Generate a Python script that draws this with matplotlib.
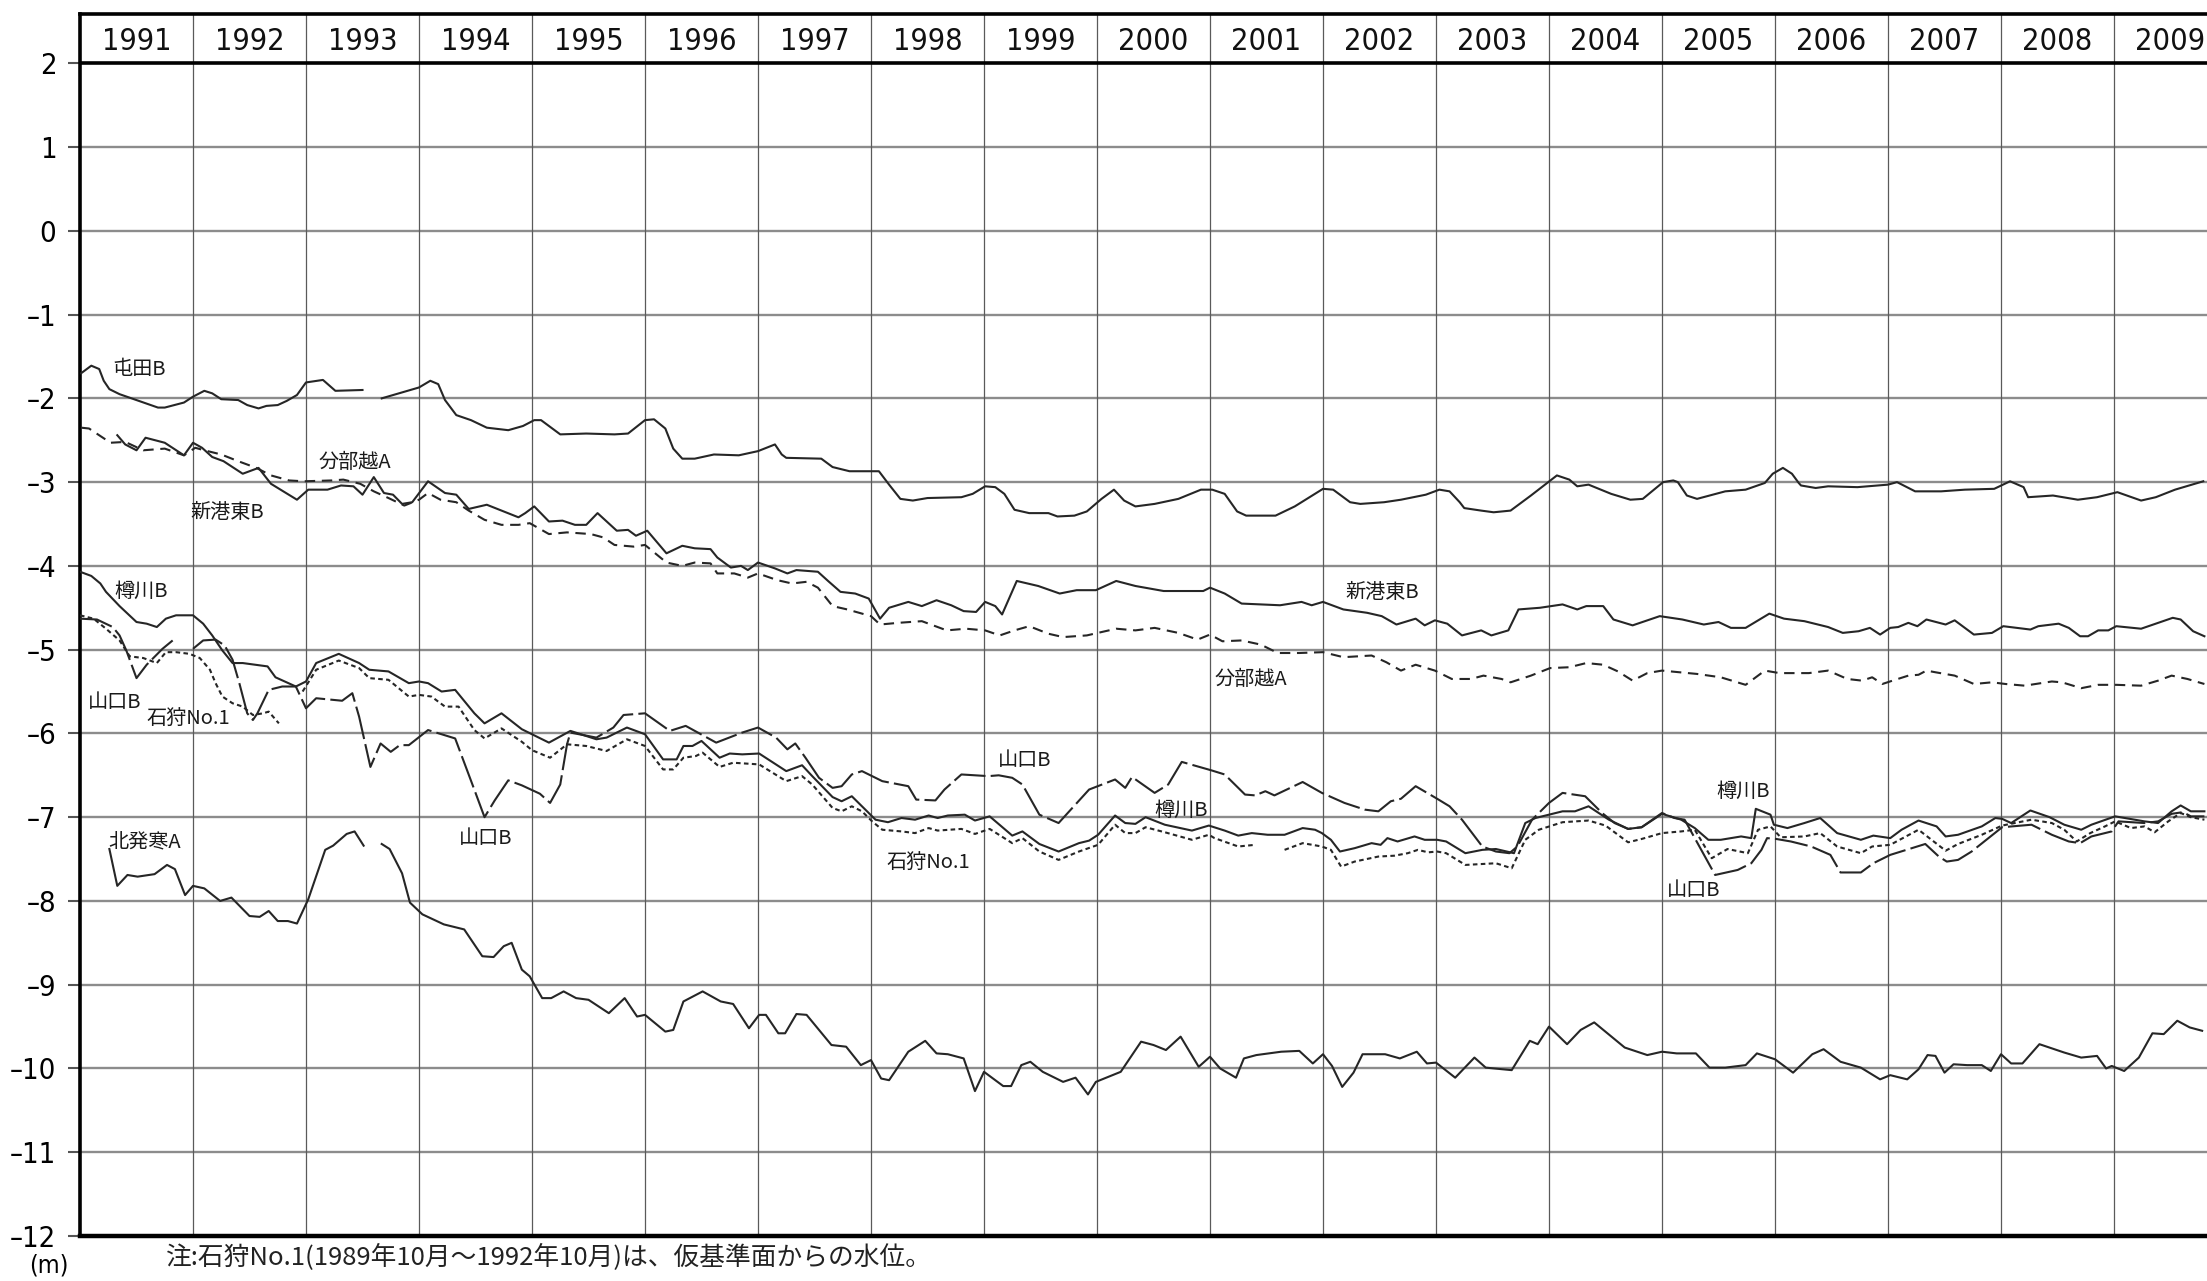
import numpy as np
import matplotlib.pyplot as plt

plt.rcParams['font.family'] = ['Noto Sans CJK JP', 'DejaVu Sans']
NARROW = ['DejaVu Sans Condensed', 'Liberation Sans Narrow', 'DejaVu Sans']

# 観測年 (ヘッダー) と水位目盛
years = list(range(1991, 2010))
levels = list(range(-12, 3))

# 各観測井の水位 (年, m)
tonden_b = [
    (1991.01, -1.70), (1991.10, -1.61), (1991.17, -1.65), (1991.21, -1.79), (1991.26, -1.89),
    (1991.35, -1.95), (1991.50, -2.02), (1991.69, -2.11), (1991.75, -2.11), (1991.92, -2.05),
    (1992.00, -1.98), (1992.10, -1.91), (1992.17, -1.94), (1992.25, -2.01), (1992.40, -2.02),
    (1992.48, -2.08), (1992.58, -2.12), (1992.65, -2.09), (1992.75, -2.08), (1992.83, -2.03),
    (1992.92, -1.96), (1993.00, -1.81), (1993.15, -1.78), (1993.26, -1.91), (1993.50, -1.90),
    (1993.58, np.nan),
    (1993.67, -2.00), (1994.00, -1.87), (1994.10, -1.79), (1994.17, -1.83), (1994.23, -2.02),
    (1994.33, -2.20), (1994.46, -2.26), (1994.60, -2.35), (1994.79, -2.38), (1994.92, -2.33),
    (1995.02, -2.26), (1995.08, -2.26), (1995.25, -2.43), (1995.48, -2.42), (1995.73, -2.43),
    (1995.85, -2.42), (1996.00, -2.26), (1996.08, -2.25), (1996.18, -2.36), (1996.25, -2.60),
    (1996.33, -2.72), (1996.44, -2.72), (1996.61, -2.67), (1996.83, -2.68), (1997.00, -2.63),
    (1997.15, -2.55), (1997.21, -2.67), (1997.25, -2.71), (1997.56, -2.72), (1997.66, -2.82),
    (1997.81, -2.87), (1998.07, -2.87), (1998.16, -3.03), (1998.26, -3.20), (1998.37, -3.22),
    (1998.50, -3.19), (1998.80, -3.18), (1998.90, -3.14), (1999.01, -3.05), (1999.10, -3.06),
    (1999.18, -3.14), (1999.27, -3.33), (1999.40, -3.37), (1999.57, -3.37), (1999.65, -3.41),
    (1999.80, -3.40), (1999.91, -3.35), (2000.04, -3.20), (2000.15, -3.09), (2000.24, -3.22),
    (2000.34, -3.29), (2000.51, -3.26), (2000.72, -3.20), (2000.92, -3.09), (2001.02, -3.09),
    (2001.13, -3.14), (2001.24, -3.35), (2001.32, -3.40), (2001.58, -3.40), (2001.75, -3.29),
    (2002.00, -3.08), (2002.09, -3.09), (2002.24, -3.24), (2002.33, -3.26), (2002.54, -3.24),
    (2002.69, -3.21), (2002.91, -3.15), (2003.03, -3.09), (2003.12, -3.11), (2003.21, -3.24),
    (2003.25, -3.31), (2003.40, -3.34), (2003.51, -3.36), (2003.66, -3.34), (2003.84, -3.16),
    (2004.07, -2.92), (2004.18, -2.97), (2004.25, -3.05), (2004.35, -3.03), (2004.55, -3.14),
    (2004.72, -3.21), (2004.83, -3.20), (2005.01, -3.00), (2005.10, -2.98), (2005.14, -3.00),
    (2005.22, -3.16), (2005.31, -3.20), (2005.56, -3.11), (2005.74, -3.09), (2005.91, -3.01),
    (2005.98, -2.90), (2006.07, -2.83), (2006.15, -2.90), (2006.21, -3.01), (2006.23, -3.04),
    (2006.36, -3.07), (2006.47, -3.05), (2006.73, -3.06), (2007.00, -3.03), (2007.08, -3.00),
    (2007.24, -3.11), (2007.47, -3.11), (2007.68, -3.09), (2007.94, -3.08), (2008.08, -2.99),
    (2008.20, -3.06), (2008.24, -3.18), (2008.46, -3.16), (2008.68, -3.21), (2008.85, -3.18),
    (2009.03, -3.12), (2009.24, -3.22), (2009.37, -3.18), (2009.54, -3.09), (2009.79, -2.99),
]

shinko_higashi_b = [
    (1991.33, -2.44), (1991.40, -2.55), (1991.50, -2.62), (1991.58, -2.47), (1991.75, -2.53),
    (1991.92, -2.68), (1992.00, -2.53), (1992.08, -2.59), (1992.17, -2.70), (1992.27, -2.75),
    (1992.44, -2.90), (1992.58, -2.83), (1992.69, -3.02), (1992.92, -3.21), (1993.02, -3.09),
    (1993.19, -3.09), (1993.31, -3.04), (1993.42, -3.05), (1993.50, -3.15), (1993.60, -2.94),
    (1993.69, -3.13), (1993.77, -3.15), (1993.85, -3.26), (1993.94, -3.24), (1994.08, -2.99),
    (1994.23, -3.13), (1994.33, -3.15), (1994.44, -3.32), (1994.60, -3.27), (1994.73, -3.34),
    (1994.88, -3.42), (1994.94, -3.37), (1995.02, -3.29), (1995.15, -3.47), (1995.27, -3.46),
    (1995.38, -3.51), (1995.48, -3.51), (1995.58, -3.37), (1995.75, -3.58), (1995.85, -3.57),
    (1995.92, -3.64), (1996.02, -3.58), (1996.19, -3.85), (1996.33, -3.76), (1996.44, -3.79),
    (1996.58, -3.80), (1996.64, -3.90), (1996.76, -4.02), (1996.85, -4.00), (1996.91, -4.05),
    (1997.00, -3.96), (1997.15, -4.03), (1997.26, -4.09), (1997.34, -4.05), (1997.53, -4.07),
    (1997.62, -4.18), (1997.73, -4.31), (1997.86, -4.33), (1997.98, -4.39), (1998.08, -4.63),
    (1998.16, -4.50), (1998.33, -4.43), (1998.45, -4.48), (1998.58, -4.41), (1998.71, -4.47),
    (1998.82, -4.54), (1998.93, -4.55), (1999.01, -4.43), (1999.10, -4.48), (1999.16, -4.58),
    (1999.29, -4.18), (1999.48, -4.24), (1999.67, -4.33), (1999.82, -4.29), (1999.99, -4.29),
    (2000.17, -4.18), (2000.34, -4.24), (2000.59, -4.30), (2000.94, -4.30), (2001.00, -4.26),
    (2001.13, -4.33), (2001.28, -4.45), (2001.62, -4.47), (2001.81, -4.43), (2001.90, -4.47),
    (2002.00, -4.43), (2002.18, -4.52), (2002.39, -4.56), (2002.52, -4.60), (2002.65, -4.70),
    (2002.82, -4.63), (2002.90, -4.71), (2002.99, -4.65), (2003.10, -4.69), (2003.23, -4.83),
    (2003.40, -4.77), (2003.49, -4.83), (2003.64, -4.77), (2003.73, -4.52), (2003.92, -4.50),
    (2004.12, -4.46), (2004.25, -4.52), (2004.33, -4.48), (2004.48, -4.48), (2004.57, -4.64),
    (2004.74, -4.71), (2004.98, -4.60), (2005.18, -4.64), (2005.37, -4.70), (2005.50, -4.67),
    (2005.61, -4.74), (2005.74, -4.74), (2005.95, -4.57), (2006.08, -4.63), (2006.26, -4.66),
    (2006.47, -4.73), (2006.60, -4.80), (2006.74, -4.78), (2006.84, -4.74), (2006.93, -4.82),
    (2007.02, -4.74), (2007.09, -4.73), (2007.18, -4.68), (2007.26, -4.72), (2007.34, -4.64),
    (2007.51, -4.70), (2007.59, -4.65), (2007.76, -4.82), (2007.92, -4.80), (2008.02, -4.72),
    (2008.26, -4.76), (2008.33, -4.72), (2008.51, -4.69), (2008.60, -4.74), (2008.70, -4.84),
    (2008.77, -4.84), (2008.86, -4.77), (2008.95, -4.77), (2009.02, -4.72), (2009.24, -4.75),
    (2009.39, -4.68), (2009.52, -4.62), (2009.59, -4.64), (2009.70, -4.78), (2009.80, -4.84),
]

bunbukoshi_a = [
    (1991.01, -2.35), (1991.08, -2.36), (1991.27, -2.53), (1991.40, -2.52), (1991.56, -2.62),
    (1991.75, -2.60), (1991.92, -2.68), (1992.02, -2.59), (1992.10, -2.62), (1992.25, -2.67),
    (1992.40, -2.75), (1992.56, -2.83), (1992.69, -2.92), (1992.85, -2.98), (1992.98, -2.99),
    (1993.23, -2.98), (1993.33, -2.97), (1993.48, -3.02), (1993.60, -3.11), (1993.73, -3.19),
    (1993.87, -3.28), (1994.00, -3.21), (1994.08, -3.13), (1994.19, -3.21), (1994.33, -3.24),
    (1994.44, -3.34), (1994.58, -3.45), (1994.73, -3.51), (1994.88, -3.51), (1994.98, -3.49),
    (1995.15, -3.62), (1995.31, -3.60), (1995.52, -3.62), (1995.63, -3.66), (1995.73, -3.75),
    (1995.90, -3.77), (1996.00, -3.75), (1996.19, -3.96), (1996.33, -4.00), (1996.44, -3.96),
    (1996.58, -3.97), (1996.64, -4.09), (1996.79, -4.09), (1996.91, -4.14), (1997.00, -4.09),
    (1997.17, -4.17), (1997.30, -4.21), (1997.43, -4.19), (1997.53, -4.26), (1997.66, -4.48),
    (1997.79, -4.52), (1998.00, -4.60), (1998.08, -4.70), (1998.24, -4.68), (1998.45, -4.66),
    (1998.67, -4.77), (1998.84, -4.75), (1999.01, -4.77), (1999.14, -4.83), (1999.27, -4.77),
    (1999.40, -4.72), (1999.57, -4.81), (1999.70, -4.85), (1999.91, -4.83), (2000.17, -4.75),
    (2000.34, -4.77), (2000.51, -4.74), (2000.72, -4.80), (2000.89, -4.88), (2001.00, -4.82),
    (2001.11, -4.90), (2001.28, -4.89), (2001.45, -4.94), (2001.60, -5.04), (2001.79, -5.04),
    (2002.00, -5.03), (2002.18, -5.09), (2002.43, -5.07), (2002.56, -5.15), (2002.69, -5.25),
    (2002.82, -5.18), (2002.99, -5.25), (2003.14, -5.35), (2003.31, -5.35), (2003.42, -5.31),
    (2003.58, -5.35), (2003.66, -5.39), (2003.84, -5.31), (2004.01, -5.22), (2004.18, -5.21),
    (2004.33, -5.16), (2004.48, -5.18), (2004.61, -5.26), (2004.74, -5.37), (2004.87, -5.28),
    (2005.00, -5.25), (2005.31, -5.29), (2005.52, -5.33), (2005.74, -5.42), (2005.91, -5.25),
    (2006.04, -5.28), (2006.30, -5.28), (2006.47, -5.25), (2006.64, -5.35), (2006.77, -5.37),
    (2006.86, -5.33), (2006.95, -5.41), (2007.04, -5.37), (2007.18, -5.31), (2007.27, -5.30),
    (2007.34, -5.25), (2007.42, -5.27), (2007.59, -5.31), (2007.76, -5.41), (2007.92, -5.39),
    (2008.04, -5.41), (2008.21, -5.43), (2008.45, -5.38), (2008.54, -5.39), (2008.71, -5.46),
    (2008.86, -5.42), (2009.02, -5.42), (2009.24, -5.43), (2009.39, -5.37), (2009.51, -5.31),
    (2009.65, -5.35), (2009.80, -5.41),
]

tarukawa_b = [
    (1991.00, -4.07), (1991.10, -4.12), (1991.18, -4.21), (1991.23, -4.31), (1991.35, -4.48),
    (1991.50, -4.67), (1991.59, -4.69), (1991.68, -4.73), (1991.76, -4.63), (1991.85, -4.59),
    (1992.00, -4.59), (1992.09, -4.69), (1992.17, -4.83), (1992.26, -5.01), (1992.35, -5.16),
    (1992.44, -5.16), (1992.66, -5.20), (1992.73, -5.33), (1992.91, -5.44), (1993.00, -5.38),
    (1993.09, -5.16), (1993.29, -5.05), (1993.47, -5.16), (1993.56, -5.24), (1993.73, -5.26),
    (1993.91, -5.40), (1994.00, -5.38), (1994.08, -5.40), (1994.20, -5.50), (1994.32, -5.48),
    (1994.49, -5.76), (1994.58, -5.88), (1994.73, -5.76), (1994.91, -5.95), (1995.00, -6.01),
    (1995.15, -6.11), (1995.34, -5.97), (1995.57, -6.07), (1995.66, -6.05), (1995.84, -5.93),
    (1996.00, -6.01), (1996.16, -6.31), (1996.28, -6.31), (1996.34, -6.15), (1996.42, -6.15),
    (1996.50, -6.09), (1996.66, -6.29), (1996.75, -6.24), (1996.86, -6.25), (1997.01, -6.24),
    (1997.25, -6.45), (1997.39, -6.38), (1997.48, -6.51), (1997.66, -6.76), (1997.74, -6.81),
    (1997.83, -6.75), (1997.92, -6.87), (1998.04, -7.03), (1998.15, -7.06), (1998.27, -7.01),
    (1998.39, -7.03), (1998.51, -6.98), (1998.59, -7.01), (1998.68, -6.98), (1998.83, -6.97),
    (1998.92, -7.04), (1999.05, -6.99), (1999.25, -7.22), (1999.34, -7.17), (1999.49, -7.32),
    (1999.66, -7.41), (1999.84, -7.31), (1999.93, -7.28), (2000.01, -7.21), (2000.16, -6.98),
    (2000.25, -7.07), (2000.34, -7.08), (2000.43, -7.00), (2000.60, -7.09), (2000.84, -7.16),
    (2000.99, -7.10), (2001.13, -7.16), (2001.25, -7.22), (2001.37, -7.19), (2001.51, -7.21),
    (2001.66, -7.21), (2001.82, -7.13), (2001.93, -7.15), (2001.99, -7.19), (2002.07, -7.27),
    (2002.15, -7.41), (2002.28, -7.37), (2002.43, -7.31), (2002.51, -7.33), (2002.57, -7.25),
    (2002.66, -7.29), (2002.81, -7.23), (2002.90, -7.27), (2003.01, -7.27), (2003.09, -7.29),
    (2003.26, -7.43), (2003.41, -7.39), (2003.53, -7.38), (2003.69, -7.43), (2003.79, -7.07),
    (2003.88, -7.01), (2004.12, -6.93), (2004.23, -6.93), (2004.35, -6.87), (2004.53, -7.03),
    (2004.70, -7.14), (2004.82, -7.12), (2005.00, -6.96), (2005.17, -7.03), (2005.29, -7.13),
    (2005.41, -7.27), (2005.52, -7.27), (2005.70, -7.23), (2005.79, -7.25), (2005.83, -6.90),
    (2005.96, -6.97), (2005.99, -7.09), (2006.11, -7.13), (2006.26, -7.07), (2006.40, -7.01),
    (2006.55, -7.19), (2006.76, -7.27), (2006.87, -7.22), (2007.02, -7.25), (2007.12, -7.15),
    (2007.27, -7.04), (2007.43, -7.11), (2007.51, -7.23), (2007.62, -7.21), (2007.83, -7.11),
    (2007.95, -7.01), (2008.01, -7.02), (2008.09, -7.07), (2008.26, -6.92), (2008.43, -7.00),
    (2008.56, -7.09), (2008.71, -7.15), (2008.80, -7.09), (2009.01, -6.99), (2009.27, -7.05),
    (2009.39, -7.07), (2009.51, -6.93), (2009.59, -6.86), (2009.68, -6.93), (2009.80, -6.93),
]

yamaguchi_b = [
    (1991.00, -4.63), (1991.15, -4.64), (1991.29, -4.73), (1991.35, -4.83), (1991.41, -5.01),
    (1991.50, -5.34), (1991.59, -5.18), (1991.73, -4.99), (1991.82, -4.89), (1991.91, np.nan),
    (1992.00, -4.99), (1992.09, -4.89), (1992.20, -4.88), (1992.28, -4.95), (1992.35, -5.12),
    (1992.41, -5.40), (1992.48, -5.76), (1992.53, -5.84), (1992.57, -5.76), (1992.67, -5.48),
    (1992.79, -5.44), (1992.91, -5.44), (1993.00, -5.70), (1993.09, -5.58), (1993.32, -5.61),
    (1993.41, -5.52), (1993.47, -5.80), (1993.57, -6.40), (1993.66, -6.12), (1993.75, -6.22),
    (1993.83, -6.14), (1993.91, -6.14), (1994.08, -5.96), (1994.32, -6.06), (1994.47, -6.60),
    (1994.58, -7.00), (1994.67, -6.80), (1994.79, -6.56), (1994.91, -6.62), (1995.07, -6.72),
    (1995.16, -6.83), (1995.25, -6.61), (1995.31, -6.13), (1995.34, -5.99), (1995.57, -6.05),
    (1995.72, -5.93), (1995.81, -5.78), (1996.00, -5.76), (1996.22, -5.97), (1996.36, -5.91),
    (1996.63, -6.11), (1996.86, -5.99), (1997.00, -5.93), (1997.16, -6.05), (1997.26, -6.19),
    (1997.33, -6.12), (1997.42, -6.29), (1997.54, -6.53), (1997.66, -6.65), (1997.74, -6.63),
    (1997.83, -6.49), (1997.92, -6.45), (1998.10, -6.57), (1998.33, -6.63), (1998.40, -6.79),
    (1998.57, -6.80), (1998.65, -6.67), (1998.80, -6.49), (1999.04, -6.51), (1999.13, -6.50),
    (1999.25, -6.53), (1999.34, -6.61), (1999.49, -6.97), (1999.66, -7.07), (1999.93, -6.67),
    (2000.16, -6.55), (2000.25, -6.65), (2000.31, -6.52), (2000.51, -6.71), (2000.63, -6.61),
    (2000.75, -6.34), (2001.01, -6.44), (2001.13, -6.49), (2001.31, -6.73), (2001.40, -6.74),
    (2001.49, -6.69), (2001.57, -6.74), (2001.82, -6.58), (2001.99, -6.71), (2002.19, -6.83),
    (2002.37, -6.91), (2002.49, -6.93), (2002.60, -6.81), (2002.69, -6.78), (2002.82, -6.63),
    (2003.01, -6.78), (2003.12, -6.87), (2003.23, -7.03), (2003.32, -7.19), (2003.41, -7.35),
    (2003.53, -7.41), (2003.65, -7.43), (2003.72, -7.35), (2003.85, -7.03), (2004.00, -6.83),
    (2004.12, -6.71), (2004.32, -6.75), (2004.47, -6.95), (2004.58, -7.07), (2004.70, -7.14),
    (2004.82, -7.12), (2005.00, -6.95), (2005.11, -7.01), (2005.20, -7.03), (2005.47, -7.69),
    (2005.67, -7.63), (2005.79, -7.55), (2005.88, -7.39), (2005.93, -7.25), (2006.01, -7.26),
    (2006.14, -7.29), (2006.32, -7.35), (2006.49, -7.45), (2006.58, -7.66), (2006.76, -7.66),
    (2006.87, -7.55), (2007.02, -7.45), (2007.33, -7.32), (2007.45, -7.47), (2007.52, -7.53),
    (2007.62, -7.51), (2007.74, -7.41), (2008.01, -7.12), (2008.27, -7.09), (2008.45, -7.21),
    (2008.60, -7.29), (2008.70, -7.31), (2008.80, -7.23), (2008.98, -7.17), (2009.04, -7.05),
    (2009.27, -7.07), (2009.39, -7.05), (2009.51, -6.96), (2009.61, -6.94), (2009.68, -6.99),
    (2009.80, -6.99),
]

# 石狩No.1 (1989年10月～1992年10月 は仮基準面)
ishikari_old = [
    (1991.00, -4.59), (1991.12, -4.63), (1991.23, -4.75), (1991.35, -4.89), (1991.44, -5.08),
    (1991.56, -5.10), (1991.68, -5.16), (1991.76, -5.03), (1991.85, -5.03), (1991.97, -5.05),
    (1992.06, -5.10), (1992.15, -5.24), (1992.20, -5.40), (1992.26, -5.56), (1992.35, -5.64),
    (1992.44, -5.68), (1992.53, -5.78), (1992.62, -5.76), (1992.67, -5.74), (1992.76, -5.88),
]

ishikari_no1 = [
    (1992.97, -5.50), (1993.09, -5.24), (1993.29, -5.13), (1993.47, -5.22), (1993.56, -5.34),
    (1993.73, -5.36), (1993.91, -5.56), (1994.00, -5.54), (1994.11, -5.56), (1994.23, -5.68),
    (1994.35, -5.68), (1994.49, -5.96), (1994.58, -6.06), (1994.73, -5.94), (1994.91, -6.10),
    (1995.00, -6.20), (1995.16, -6.29), (1995.31, -6.13), (1995.48, -6.15), (1995.66, -6.21),
    (1995.84, -6.07), (1996.00, -6.15), (1996.16, -6.43), (1996.25, -6.43), (1996.34, -6.29),
    (1996.45, -6.27), (1996.51, -6.23), (1996.66, -6.40), (1996.78, -6.35), (1997.01, -6.37),
    (1997.25, -6.57), (1997.39, -6.51), (1997.48, -6.61), (1997.66, -6.89), (1997.74, -6.93),
    (1997.83, -6.87), (1997.92, -6.93), (1998.01, -7.05), (1998.10, -7.15), (1998.27, -7.17),
    (1998.39, -7.19), (1998.51, -7.13), (1998.59, -7.16), (1998.80, -7.14), (1998.92, -7.20),
    (1999.05, -7.14), (1999.25, -7.31), (1999.34, -7.25), (1999.49, -7.41), (1999.66, -7.51),
    (1999.84, -7.41), (2000.01, -7.33), (2000.16, -7.09), (2000.25, -7.19), (2000.34, -7.19),
    (2000.43, -7.12), (2000.60, -7.18), (2000.84, -7.27), (2000.99, -7.21), (2001.04, -7.25),
    (2001.25, -7.35), (2001.40, -7.33), (2001.53, np.nan), (2001.66, -7.39), (2001.82, -7.31),
    (2001.99, -7.35), (2002.07, -7.39), (2002.16, -7.59), (2002.28, -7.53), (2002.49, -7.47),
    (2002.63, -7.46), (2002.75, -7.43), (2002.84, -7.39), (2002.93, -7.42), (2003.01, -7.41),
    (2003.09, -7.43), (2003.26, -7.57), (2003.53, -7.55), (2003.67, -7.61), (2003.79, -7.27),
    (2003.91, -7.15), (2004.12, -7.06), (2004.35, -7.04), (2004.50, -7.10), (2004.70, -7.30),
    (2004.82, -7.26), (2005.00, -7.19), (2005.17, -7.17), (2005.29, -7.15), (2005.44, -7.49),
    (2005.58, -7.38), (2005.76, -7.43), (2005.85, -7.15), (2005.96, -7.11), (2006.05, -7.24),
    (2006.26, -7.23), (2006.40, -7.19), (2006.55, -7.35), (2006.76, -7.43), (2006.86, -7.35),
    (2007.02, -7.33), (2007.27, -7.15), (2007.51, -7.40), (2007.62, -7.32), (2007.83, -7.21),
    (2008.01, -7.10), (2008.27, -7.03), (2008.45, -7.07), (2008.56, -7.15), (2008.67, -7.29),
    (2008.79, -7.19), (2008.92, -7.11), (2009.01, -7.05), (2009.15, -7.13), (2009.27, -7.11),
    (2009.36, -7.18), (2009.48, -7.05), (2009.59, -6.95), (2009.68, -7.00), (2009.80, -7.03),
]

kitahassamu_a = [
    (1991.26, -7.38), (1991.33, -7.82), (1991.42, -7.69), (1991.51, -7.71), (1991.66, -7.68),
    (1991.77, -7.57), (1991.84, -7.62), (1991.93, -7.93), (1992.00, -7.82), (1992.10, -7.85),
    (1992.24, -8.00), (1992.34, -7.96), (1992.50, -8.18), (1992.59, -8.19), (1992.67, -8.12),
    (1992.75, -8.24), (1992.84, -8.24), (1992.92, -8.27), (1993.02, -7.98), (1993.17, -7.39),
    (1993.24, -7.34), (1993.36, -7.20), (1993.43, -7.17), (1993.51, -7.34), (1993.59, np.nan),
    (1993.67, -7.32), (1993.74, -7.38), (1993.85, -7.67), (1993.92, -8.02), (1994.03, -8.16),
    (1994.22, -8.28), (1994.40, -8.34), (1994.56, -8.66), (1994.66, -8.67), (1994.75, -8.54),
    (1994.82, -8.50), (1994.91, -8.82), (1994.98, -8.90), (1995.09, -9.16), (1995.17, -9.16),
    (1995.28, -9.08), (1995.39, -9.16), (1995.50, -9.18), (1995.68, -9.34), (1995.82, -9.16),
    (1995.93, -9.38), (1996.00, -9.36), (1996.18, -9.56), (1996.25, -9.54), (1996.34, -9.20),
    (1996.51, -9.08), (1996.67, -9.20), (1996.78, -9.23), (1996.92, -9.52), (1997.01, -9.36),
    (1997.07, -9.36), (1997.18, -9.58), (1997.24, -9.58), (1997.34, -9.35), (1997.43, -9.36),
    (1997.65, -9.72), (1997.78, -9.74), (1997.91, -9.96), (1998.00, -9.90), (1998.09, -10.12),
    (1998.16, -10.14), (1998.33, -9.80), (1998.48, -9.67), (1998.58, -9.82), (1998.68, -9.83),
    (1998.82, -9.88), (1998.92, -10.27), (1999.00, -10.04), (1999.17, -10.21), (1999.24, -10.21),
    (1999.33, -9.96), (1999.41, -9.92), (1999.52, -10.04), (1999.70, -10.16), (1999.81, -10.11),
    (1999.92, -10.31), (1999.99, -10.16), (2000.21, -10.04), (2000.39, -9.68), (2000.50, -9.72),
    (2000.61, -9.78), (2000.74, -9.62), (2000.90, -9.98), (2001.00, -9.86), (2001.09, -10.00),
    (2001.23, -10.11), (2001.30, -9.88), (2001.41, -9.84), (2001.63, -9.80), (2001.79, -9.79),
    (2001.91, -9.94), (2002.00, -9.83), (2002.08, -9.97), (2002.17, -10.22), (2002.27, -10.05),
    (2002.35, -9.83), (2002.55, -9.83), (2002.68, -9.88), (2002.83, -9.80), (2002.92, -9.94),
    (2003.00, -9.93), (2003.17, -10.11), (2003.34, -9.87), (2003.44, -9.99), (2003.67, -10.02),
    (2003.83, -9.67), (2003.90, -9.71), (2004.00, -9.50), (2004.16, -9.71), (2004.28, -9.54),
    (2004.40, -9.45), (2004.67, -9.75), (2004.87, -9.84), (2005.00, -9.80), (2005.13, -9.82),
    (2005.30, -9.82), (2005.42, -9.99), (2005.56, -9.99), (2005.74, -9.96), (2005.84, -9.82),
    (2006.00, -9.89), (2006.16, -10.05), (2006.33, -9.83), (2006.43, -9.77), (2006.58, -9.92),
    (2006.76, -9.99), (2006.93, -10.13), (2007.02, -10.08), (2007.17, -10.13), (2007.27, -10.01),
    (2007.35, -9.84), (2007.42, -9.85), (2007.50, -10.05), (2007.58, -9.95), (2007.70, -9.96),
    (2007.83, -9.96), (2007.91, -10.03), (2008.00, -9.83), (2008.09, -9.94), (2008.19, -9.94),
    (2008.34, -9.71), (2008.56, -9.81), (2008.71, -9.87), (2008.85, -9.85), (2008.93, -10.00),
    (2008.98, -9.97), (2009.09, -10.03), (2009.22, -9.87), (2009.34, -9.58), (2009.44, -9.59),
    (2009.56, -9.43), (2009.67, -9.51), (2009.78, -9.55),
]

# 観測井名ラベル (年, m, 名称)
labels = [
    (1991.29, -1.65, '屯田B'),
    (1993.11, -2.76, '分部越A'),
    (1991.98, -3.36, '新港東B'),
    (1991.30, -4.30, '樽川B'),
    (1991.07, -5.63, '山口B'),
    (1991.59, -5.83, '石狩No.1'),
    (1991.25, -7.29, '北発寒A'),
    (1994.35, -7.26, '山口B'),
    (2002.20, -4.32, '新港東B'),
    (2001.04, -5.36, '分部越A'),
    (1999.12, -6.32, '山口B'),
    (2000.51, -6.92, '樽川B'),
    (1998.14, -7.55, '石狩No.1'),
    (2005.48, -6.69, '樽川B'),
    (2005.04, -7.87, '山口B'),
]

W, H = 2207, 1281
fig = plt.figure(figsize=(W / 100, H / 100), dpi=100)
ax = fig.add_axes([80 / W, 45 / H, 1 - 80 / W, (H - 45 - 14) / H])

x0, x1 = 1991, 1991 + (W - 80) / 113.0
y_top = 2 + (63.3 - 14) / 83.76
ax.set_xlim(x0, x1)
ax.set_ylim(-12, y_top)

# 格子線
for lv in levels[1:-1]:
    ax.axhline(lv, color='#8c8c8c', lw=1.7, zorder=1)
for yr in years[1:]:
    ax.axvline(yr, color='#5a5a5a', lw=0.9, zorder=1)
ax.axhline(2, color='black', lw=2.6, zorder=3)

# 年ヘッダー
for yr in years:
    ax.text(yr + 0.5, (2 + y_top) / 2 - 0.03, str(yr), ha='center', va='center',
            fontsize=22, family=NARROW, fontstretch='condensed', color='#111')

ink = '#262626'
styles = [
    (tonden_b, '-'),
    (shinko_higashi_b, '-'),
    (bunbukoshi_a, (0, (5, 3.2))),
    (tarukawa_b, '-'),
    (yamaguchi_b, (0, (16, 2.5))),
    (ishikari_old, (0, (2.2, 1.6))),
    (ishikari_no1, (0, (2.2, 1.6))),
    (kitahassamu_a, '-'),
]
for data, ls in styles:
    arr = np.array(data, dtype=float)
    ax.plot(arr[:, 0], arr[:, 1], color=ink, lw=1.5, ls=ls, zorder=4)

for x, y, name in labels:
    ax.text(x, y, name, ha='left', va='center', fontsize=14.5, color='#1a1a1a', zorder=5)

# 軸 (負号は短いダッシュ)
ax.set_xticks([])
ax.set_yticks(levels)
ax.set_yticklabels([str(v).replace('-', '\u2013') for v in levels], family=NARROW,
                   fontstretch='condensed', fontsize=21)
ax.tick_params(axis='y', length=9, width=1.5, color='#555', pad=8)
ax.spines['right'].set_visible(False)
ax.spines['left'].set_linewidth(2.6)
ax.spines['bottom'].set_linewidth(3.2)
ax.spines['top'].set_linewidth(2.6)

fig.text(49 / W, 1 - 1266 / H, '(m)', ha='center', va='center', fontsize=18,
         family=NARROW, fontstretch='condensed')
fig.text(166 / W, 1 - 1257 / H, '注:石狩No.1(1989年10月～1992年10月)は、仮基準面からの水位。',
         ha='left', va='center', fontsize=18.5, color='#222')

fig.savefig('out.png', dpi=100, facecolor='white')
